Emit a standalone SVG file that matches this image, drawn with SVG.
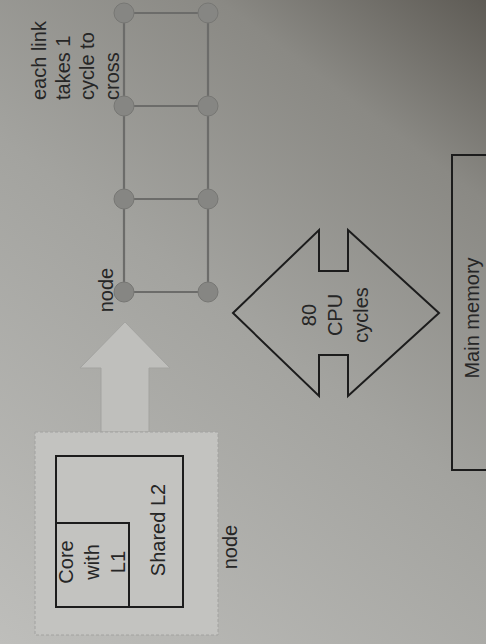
<svg xmlns="http://www.w3.org/2000/svg" width="486" height="644" viewBox="0 0 486 644">
  <defs>
    <linearGradient id="paper" x1="0" y1="644" x2="486" y2="0" gradientUnits="userSpaceOnUse">
      <stop offset="0" stop-color="#bebebb"/>
      <stop offset="0.5" stop-color="#a3a39f"/>
      <stop offset="0.8" stop-color="#8a8984"/>
      <stop offset="1" stop-color="#5e5b55"/>
    </linearGradient>
    <style>
      .lbl { font-family: "Liberation Sans", Arial, sans-serif; font-size: 20px; fill: #262626; }
      .box { fill: none; stroke: #1c1c1c; stroke-width: 2; }
      .link { stroke: #6c6c6a; stroke-width: 2.2; fill: none; }
      .mnode { fill: #868683; stroke: #777774; stroke-width: 1; }
    </style>
  </defs>

  <!-- paper background -->
  <rect x="0" y="0" width="486" height="644" fill="url(#paper)"/>

  <!-- wide arrow from the node into the mesh -->
  <g id="inject-arrow">
    <path d="M101,432 L101,368 L80,368 L125,322 L170,368 L149,368 L149,432 Z" fill="#bfbfbc" stroke="#a3a3a0" stroke-width="1"/>
  </g>

  <!-- processing node: core with L1 plus shared L2 -->
  <g id="node-tile">
    <rect x="35" y="432" width="183" height="203" fill="#c3c3c0" stroke="#a2a2a0" stroke-width="1" stroke-dasharray="3 2"/>
    <g id="shared-l2">
      <rect class="box" x="56" y="456" width="127" height="151"/>
      <text class="lbl" transform="translate(165,530) rotate(-90)" text-anchor="middle">Shared L2</text>
    </g>
    <g id="core-l1">
      <rect class="box" x="56" y="523" width="73" height="84"/>
      <text class="lbl" transform="translate(73,562) rotate(-90)" text-anchor="middle"><tspan x="0" dy="0">Core</tspan><tspan x="0" dy="26">with</tspan><tspan x="0" dy="26">L1</tspan></text>
    </g>
    <text class="lbl" transform="translate(237,547) rotate(-90)" text-anchor="middle">node</text>
  </g>

  <!-- mesh links -->
  <g id="connectors">
    <line class="link" x1="124" y1="13" x2="124" y2="292"/>
    <line class="link" x1="208" y1="13" x2="208" y2="292"/>
    <line class="link" x1="124" y1="13" x2="208" y2="13"/>
    <line class="link" x1="124" y1="106" x2="208" y2="106"/>
    <line class="link" x1="124" y1="199" x2="208" y2="199"/>
    <line class="link" x1="124" y1="292" x2="208" y2="292"/>
  </g>

  <!-- mesh routers -->
  <g id="mesh-node-1"><circle class="mnode" cx="124" cy="292" r="10"/></g>
  <g id="mesh-node-2"><circle class="mnode" cx="208" cy="292" r="10"/></g>
  <g id="mesh-node-3"><circle class="mnode" cx="124" cy="199" r="10"/></g>
  <g id="mesh-node-4"><circle class="mnode" cx="208" cy="199" r="10"/></g>
  <g id="mesh-node-5"><circle class="mnode" cx="124" cy="106" r="10"/></g>
  <g id="mesh-node-6"><circle class="mnode" cx="208" cy="106" r="10"/></g>
  <g id="mesh-node-7"><circle class="mnode" cx="124" cy="13" r="10"/></g>
  <g id="mesh-node-8"><circle class="mnode" cx="208" cy="13" r="10"/></g>

  <!-- mesh labels -->
  <g id="mesh-labels">
    <text class="lbl" transform="translate(113,290) rotate(-90)" text-anchor="middle">node</text>
    <text class="lbl" transform="translate(46,100) rotate(-90)" text-anchor="start"><tspan x="0" dy="0">each link</tspan><tspan x="0" dy="24">takes 1</tspan><tspan x="0" dy="24">cycle to</tspan><tspan x="0" dy="25">cross</tspan></text>
  </g>

  <!-- memory latency double arrow -->
  <g id="memory-latency">
    <path class="box" d="M233,313 L319,230 L319,271 L348,271 L348,230 L439,313 L348,396 L348,355 L319,355 L319,396 Z" stroke-width="1.8"/>
    <text class="lbl" transform="translate(316,315) rotate(-90)" text-anchor="middle"><tspan x="0" dy="0">80</tspan><tspan x="0" dy="26">CPU</tspan><tspan x="0" dy="26">cycles</tspan></text>
  </g>

  <!-- main memory -->
  <g id="main-memory">
    <rect class="box" x="452" y="155" width="40" height="315"/>
    <text class="lbl" transform="translate(479,318) rotate(-90)" text-anchor="middle">Main memory</text>
  </g>
</svg>
